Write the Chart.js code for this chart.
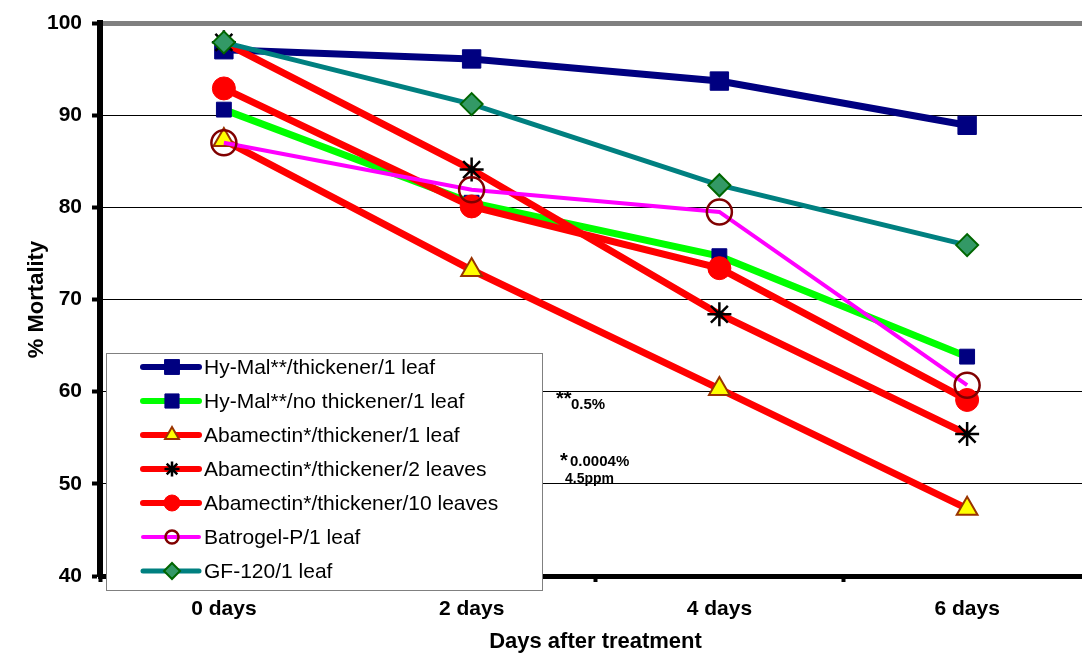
<!DOCTYPE html>
<html lang="en">
<head>
    <meta charset="UTF-8">
    <title>% Mortality by days after treatment</title>
    <style>
        html, body {
            margin: 0;
            padding: 0;
            background: #fff;
            overflow: hidden;
        }
        #wrap {
            width: 1082px;
            height: 658px;
            overflow: hidden;
        }
    </style>
    <script src="https://cdn.jsdelivr.net/npm/chart.js"></script>
</head>
<body>
    <div id="wrap">
        <canvas id="mortalityChart" width="1106" height="658"></canvas>
    </div>
    <script>
        // Data
        const days = ['0 days', '2 days', '4 days', '6 days'];
        const hyMalThick = [97.1, 96.1, 93.7, 88.9];
        const hyMalNoThick = [90.6, 80.5, 74.7, 63.8];
        const abaOneLeaf = [87.3, 73.2, 60.3, 47.3];
        const abaTwoLeaves = [97.9, 84.1, 68.4, 55.4];
        const abaTenLeaves = [92.9, 80.1, 73.4, 59.1];
        const batrogel = [87.0, 81.9, 79.5, 60.7];
        const gf120 = [97.9, 91.2, 82.4, 75.9];
        const yTicks = [40, 50, 60, 70, 80, 90, 100];

        const FONT = 'Arial, "Liberation Sans", sans-serif';

        // Custom legend box drawn over the lower-left of the plot
        const boxLegend = {
            id: 'boxLegend',
            afterDraw(chart) {
                const ctx = chart.ctx;
                const left = 106, top = 353, w = 436, h = 237;
                ctx.save();
                ctx.fillStyle = '#fff';
                ctx.fillRect(left, top, w, h);
                ctx.strokeStyle = '#808080';
                ctx.lineWidth = 1;
                ctx.strokeRect(left + 0.5, top + 0.5, w, h);

                chart.data.datasets.forEach((ds, i) => {
                    const y = 367 + i * 34;
                    ctx.beginPath();
                    ctx.strokeStyle = ds.borderColor;
                    ctx.lineWidth = ds.legendLine;
                    ctx.lineCap = 'round';
                    ctx.moveTo(143, y);
                    ctx.lineTo(199, y);
                    ctx.stroke();

                    ctx.fillStyle = ds.pointBackgroundColor;
                    ctx.strokeStyle = ds.pointBorderColor;
                    ctx.lineWidth = ds.pointBorderWidth;
                    ctx.lineCap = 'butt';
                    Chart.helpers.drawPoint(ctx, {
                        pointStyle: ds.pointStyle,
                        radius: ds.legendRadius,
                        rotation: 0,
                        borderWidth: ds.pointBorderWidth
                    }, 172, y);

                    ctx.fillStyle = '#000';
                    ctx.font = '21px ' + FONT;
                    ctx.textBaseline = 'middle';
                    ctx.textAlign = 'left';
                    ctx.fillText(ds.label, 204, y + 1);
                });

                // concentration footnotes
                ctx.fillStyle = '#000';
                ctx.textBaseline = 'alphabetic';
                ctx.font = 'bold 20px ' + FONT;
                ctx.fillText('**', 556, 405);
                ctx.font = 'bold 15px ' + FONT;
                ctx.fillText('0.5%', 571, 409);
                ctx.font = 'bold 20px ' + FONT;
                ctx.fillText('*', 560, 467);
                ctx.font = 'bold 15px ' + FONT;
                ctx.fillText('0.0004%', 570, 466);
                ctx.font = 'bold 14px ' + FONT;
                ctx.fillText('4.5ppm', 565, 483);
                ctx.restore();
            }
        };

        const ctx = document.getElementById('mortalityChart').getContext('2d');
        const mortalityChart = new Chart(ctx, {
            type: 'line',
            data: {
                labels: days,
                datasets: [
                    {
                        label: 'Hy-Mal**/thickener/1 leaf',
                        data: hyMalThick,
                        borderColor: '#000080',
                        borderWidth: 7,
                        pointStyle: 'rect',
                        pointRadius: 13,
                        pointBackgroundColor: '#000080',
                        pointBorderColor: '#000080',
                        pointBorderWidth: 1,
                        legendRadius: 10.5,
                        legendLine: 6,
                        order: 6
                    },
                    {
                        label: 'Hy-Mal**/no thickener/1 leaf',
                        data: hyMalNoThick,
                        borderColor: '#00ff00',
                        borderWidth: 7,
                        pointStyle: 'rect',
                        pointRadius: 10.5,
                        pointBackgroundColor: '#000080',
                        pointBorderColor: '#000080',
                        pointBorderWidth: 1,
                        legendRadius: 10,
                        legendLine: 6,
                        order: 5
                    },
                    {
                        label: 'Abamectin*/thickener/1 leaf',
                        data: abaOneLeaf,
                        borderColor: '#ff0000',
                        borderWidth: 7,
                        pointStyle: 'triangle',
                        pointRadius: 12,
                        pointBackgroundColor: '#ffff00',
                        pointBorderColor: '#993300',
                        pointBorderWidth: 2,
                        legendRadius: 8,
                        legendLine: 6,
                        order: 3
                    },
                    {
                        label: 'Abamectin*/thickener/2 leaves',
                        data: abaTwoLeaves,
                        borderColor: '#ff0000',
                        borderWidth: 7,
                        pointStyle: 'star',
                        pointRadius: 12,
                        pointBackgroundColor: '#000000',
                        pointBorderColor: '#000000',
                        pointBorderWidth: 2.5,
                        legendRadius: 7.5,
                        legendLine: 6,
                        order: 2
                    },
                    {
                        label: 'Abamectin*/thickener/10 leaves',
                        data: abaTenLeaves,
                        borderColor: '#ff0000',
                        borderWidth: 7,
                        pointStyle: 'circle',
                        pointRadius: 11.5,
                        pointBackgroundColor: '#ff0000',
                        pointBorderColor: '#ff0000',
                        pointBorderWidth: 1,
                        legendRadius: 8,
                        legendLine: 6,
                        order: 4
                    },
                    {
                        label: 'Batrogel-P/1 leaf',
                        data: batrogel,
                        borderColor: '#ff00ff',
                        borderWidth: 4,
                        pointStyle: 'circle',
                        pointRadius: 12.5,
                        pointBackgroundColor: 'rgba(0,0,0,0)',
                        pointBorderColor: '#800000',
                        pointBorderWidth: 2.5,
                        legendRadius: 6.5,
                        legendLine: 4,
                        order: 1
                    },
                    {
                        label: 'GF-120/1 leaf',
                        data: gf120,
                        borderColor: '#008080',
                        borderWidth: 5,
                        pointStyle: 'rectRot',
                        pointRadius: 11,
                        pointBackgroundColor: '#339966',
                        pointBorderColor: '#006600',
                        pointBorderWidth: 2,
                        legendRadius: 8,
                        legendLine: 5,
                        order: 0
                    }
                ]
            },
            options: {
                responsive: false,
                animation: false,
                events: [],
                layout: {
                    padding: { top: 23, right: 15, left: 0, bottom: 0 }
                },
                plugins: {
                    legend: { display: false },
                    tooltip: { enabled: false }
                },
                elements: {
                    line: { tension: 0 }
                },
                scales: {
                    x: {
                        offset: true,
                        afterFit: s => { s.height = 82; },
                        border: { color: '#000', width: 5 },
                        grid: {
                            offset: true,
                            drawOnChartArea: false,
                            drawTicks: true,
                            tickLength: 6,
                            tickWidth: 4,
                            tickColor: '#000'
                        },
                        ticks: {
                            color: '#000',
                            padding: 15,
                            font: { family: FONT, size: 21, weight: 'bold' }
                        },
                        title: {
                            display: true,
                            text: 'Days after treatment',
                            color: '#000',
                            font: { family: FONT, size: 22, weight: 'bold' },
                            padding: { top: 0, bottom: 3 }
                        }
                    },
                    y: {
                        min: 40,
                        max: 100,
                        afterFit: s => { s.width = 100; },
                        afterBuildTicks: s => { s.ticks = yTicks.map(v => ({ value: v })); },
                        border: { color: '#000', width: 6 },
                        grid: {
                            color: c => c.tick && c.tick.value === 100 ? '#808080' : (c.tick && c.tick.value === 40 ? 'rgba(0,0,0,0)' : '#000'),
                            lineWidth: c => c.tick && c.tick.value === 100 ? 5 : 1,
                            tickLength: 8,
                            tickWidth: 4,
                            tickColor: '#000'
                        },
                        ticks: {
                            color: '#000',
                            padding: 10,
                            font: { family: FONT, size: 21, weight: 'bold' }
                        },
                        title: {
                            display: true,
                            text: '% Mortality',
                            color: '#000',
                            font: { family: FONT, size: 22, weight: 'bold' },
                            padding: { top: 24, bottom: 0 }
                        }
                    }
                }
            },
            plugins: [boxLegend]
        });
    </script>
</body>
</html>
